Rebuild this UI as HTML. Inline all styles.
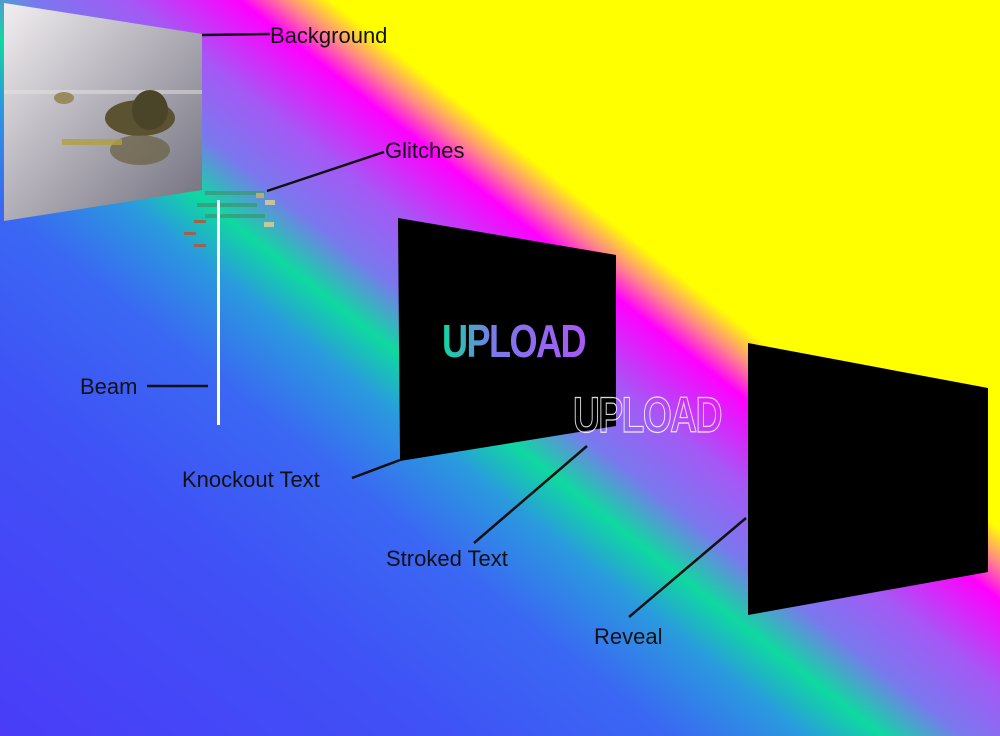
<!DOCTYPE html>
<html><head><meta charset="utf-8"><style>
html,body{margin:0;padding:0;width:1000px;height:736px;overflow:hidden}
svg{display:block}
text{font-family:"Liberation Sans",sans-serif;font-size:22px;fill:#111}
</style></head><body>
<svg width="1000" height="736" viewBox="0 0 1000 736" xmlns="http://www.w3.org/2000/svg">
<defs>
<linearGradient id="bg" gradientUnits="userSpaceOnUse" x1="-434" y1="550" x2="434" y2="-550">
<stop offset="0" stop-color="#4a38f8"/>
<stop offset="0.087" stop-color="#4a3cf8"/>
<stop offset="0.286" stop-color="#3f52f6"/>
<stop offset="0.385" stop-color="#3a68f3"/>
<stop offset="0.443" stop-color="#2a9ade"/>
<stop offset="0.478" stop-color="#0fd9a0"/>
<stop offset="0.514" stop-color="#7a78ee"/>
<stop offset="0.557" stop-color="#a558f5"/>
<stop offset="0.606" stop-color="#ff00ff"/>
<stop offset="0.626" stop-color="#ff8a85"/>
<stop offset="0.646" stop-color="#ffff00"/>
<stop offset="1" stop-color="#ffff00"/>
</linearGradient>
<linearGradient id="photo" x1="0" y1="0" x2="1" y2="1">
<stop offset="0" stop-color="#f2eef0"/>
<stop offset="0.4" stop-color="#bdbac2"/>
<stop offset="1" stop-color="#6f6e7c"/>
</linearGradient>
<linearGradient id="up" gradientUnits="userSpaceOnUse" x1="443" y1="0" x2="585" y2="0">
<stop offset="0" stop-color="#10d9a0"/>
<stop offset="0.35" stop-color="#7a7ae8"/>
<stop offset="1" stop-color="#a958f5"/>
</linearGradient>
</defs>
<rect width="1000" height="736" fill="url(#bg)"/>
<polygon points="4,3 202,34 202,190 4,221" fill="url(#photo)"/>
<rect x="4" y="90" width="198" height="4" fill="#e8e4e0" opacity="0.5"/>
<ellipse cx="140" cy="118" rx="35" ry="18" fill="#5a5230"/>
<ellipse cx="150" cy="110" rx="18" ry="20" fill="#4a4528"/>
<ellipse cx="140" cy="150" rx="30" ry="15" fill="#6a6040" opacity="0.7"/>
<ellipse cx="64" cy="98" rx="10" ry="6" fill="#9a8a60"/>
<rect x="62" y="139" width="60" height="6" fill="#b0a040" opacity="0.8"/>
<g opacity="0.8">
<rect x="205" y="191" width="60" height="4" fill="#3a9a7a"/>
<rect x="197" y="203" width="60" height="4" fill="#3a9a7a"/>
<rect x="205" y="214" width="60" height="4" fill="#3a9a7a"/>
<rect x="265" y="200" width="10" height="5" fill="#e0d090"/>
<rect x="264" y="222" width="10" height="5" fill="#e0d090"/>
<rect x="256" y="193" width="8" height="5" fill="#d0b060"/>
<rect x="194" y="220" width="12" height="3" fill="#c05030"/>
<rect x="184" y="232" width="12" height="3" fill="#c05030"/>
<rect x="194" y="244" width="12" height="3" fill="#c05030"/>
</g>
<rect x="217" y="200" width="3" height="225" fill="#fff"/>
<polygon points="398,218 616,255 616,426 400,461" fill="#000"/>
<text x="442" y="357" style="font-size:46px;font-weight:bold;fill:url(#up);letter-spacing:-2px" textLength="143" lengthAdjust="spacingAndGlyphs">UPLOAD</text>
<text x="573" y="432" style="font-size:50px;font-weight:bold;fill:none;stroke:#fff;stroke-width:1.2;stroke-opacity:0.85;letter-spacing:-2px" textLength="148" lengthAdjust="spacingAndGlyphs">UPLOAD</text>
<polygon points="748,343 988,388 988,572 748,615" fill="#000"/>
<g stroke="#111" stroke-width="2.5" fill="none">
<line x1="202" y1="35" x2="270" y2="34"/>
<line x1="267" y1="191" x2="384" y2="152"/>
<line x1="147" y1="386" x2="208" y2="386"/>
<line x1="352" y1="478" x2="400" y2="460"/>
<line x1="474" y1="543" x2="587" y2="446"/>
<line x1="629" y1="617" x2="746" y2="518"/>
</g>
<text x="270" y="43">Background</text>
<text x="385" y="158">Glitches</text>
<text x="80" y="394">Beam</text>
<text x="182" y="487">Knockout Text</text>
<text x="386" y="566">Stroked Text</text>
<text x="594" y="644">Reveal</text>
</svg>
</body></html>
